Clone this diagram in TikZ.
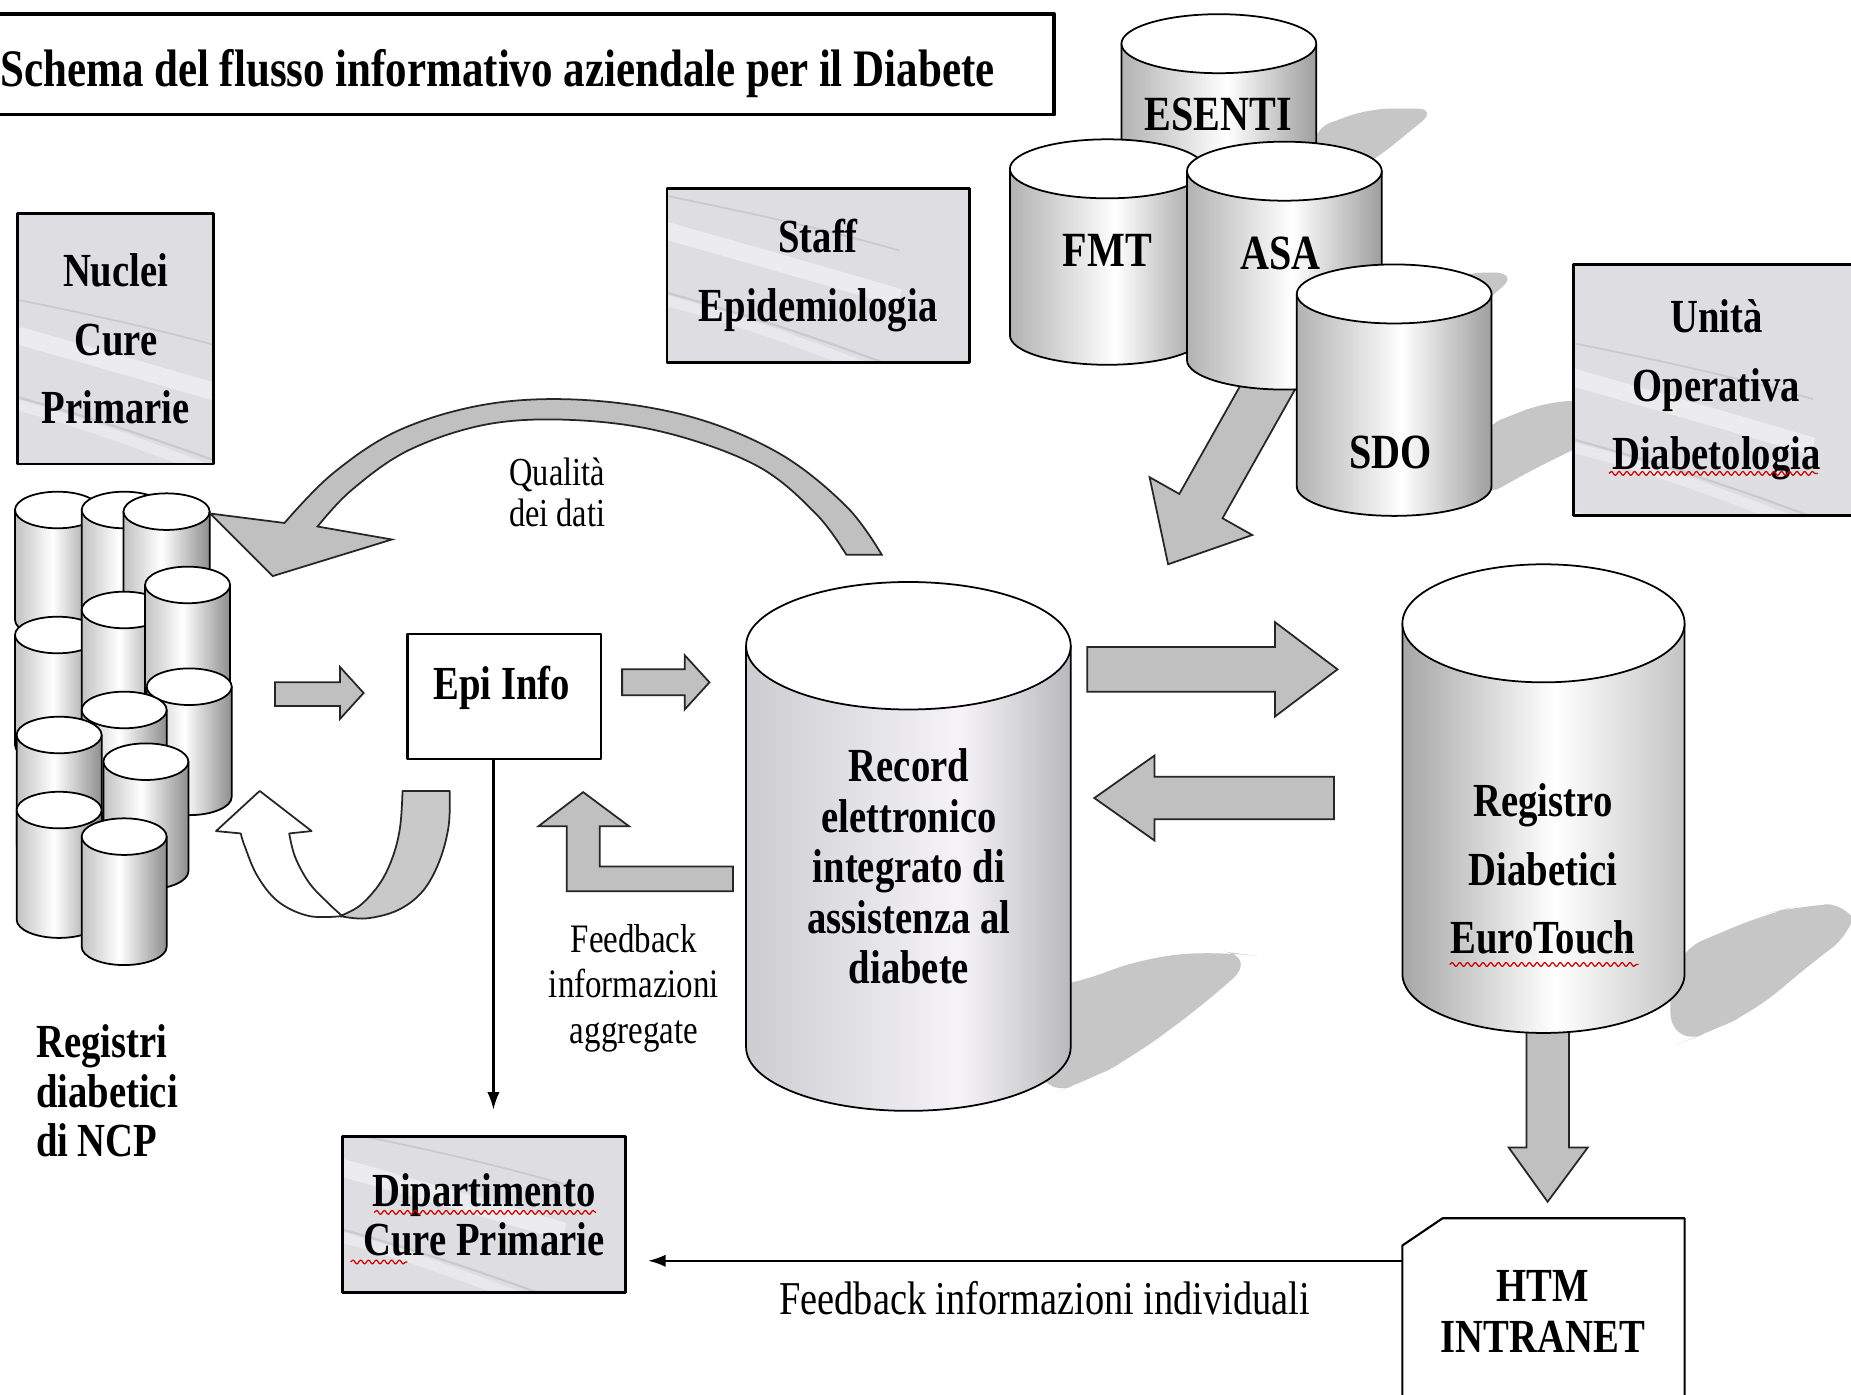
\documentclass[tikz,border=0pt]{standalone}
\usepackage{fontspec}
\setmainfont{Liberation Serif}[FakeStretch=0.815]
\usetikzlibrary{arrows.meta,decorations.pathmorphing,calc}
\definecolor{arrgray}{HTML}{C0C0C0}
\definecolor{shad}{HTML}{C6C6C6}
\definecolor{marb}{HTML}{DEDEE2}
\definecolor{cA}{HTML}{B2B2B2}\definecolor{cB}{HTML}{9E9E9E}
\definecolor{rA}{HTML}{CDCDD1}\definecolor{rM}{HTML}{F5F3F7}\definecolor{rB}{HTML}{B9B9BD}
\definecolor{gA}{HTML}{A6A6A6}\definecolor{gB}{HTML}{C4C4C4}
\definecolor{sA}{HTML}{C2C2C2}\definecolor{sB}{HTML}{8E8E8E}
\pgfdeclarehorizontalshading{cylsh}{100bp}{color(0bp)=(cA); color(25bp)=(cA); color(52bp)=(white); color(75bp)=(cB); color(100bp)=(cB)}
\pgfdeclarehorizontalshading{recsh}{100bp}{color(0bp)=(rA); color(25bp)=(rA); color(58bp)=(rM); color(75bp)=(rB); color(100bp)=(rB)}
\pgfdeclarehorizontalshading{regsh}{100bp}{color(0bp)=(gA); color(25bp)=(gA); color(52bp)=(white); color(75bp)=(gB); color(100bp)=(gB)}
\pgfdeclarehorizontalshading{stksh}{100bp}{color(0bp)=(sA); color(25bp)=(sA); color(47bp)=(white); color(75bp)=(sB); color(100bp)=(sB)}
\newdimen\U \U=0.11805mm
\newcommand\cyl[6]{%
  \path[shading=#1, draw=black, line width=0.5pt] (#2-#3,#4) -- (#2-#3,#5) arc[start angle=180, end angle=0, x radius=#3, y radius=#6] -- (#2+#3,#4) -- cycle;
  \path[fill=white, draw=black, line width=0.5pt] (#2,#4) ellipse[x radius=#3, y radius=#6];}
\newcommand\veins{%
  \draw[white, line width=5pt, opacity=.45] (-170,-120) .. controls (-80,-90) and (0,-70) .. (170,-20);
  \draw[white, line width=4pt, opacity=.4] (-170,10) .. controls (-60,30) and (40,60) .. (170,100);
  \draw[gray!70, line width=0.6pt, opacity=.35] (-170,-60) .. controls (-90,-40) and (10,-20) .. (170,40);
  \draw[gray!60, line width=1.2pt, opacity=.3] (-170,70) .. controls (-60,90) and (40,90) .. (170,140);
  \draw[gray!70, line width=0.5pt, opacity=.35] (-170,-140) .. controls (-70,-110) and (30,-100) .. (170,-60);
  \draw[white, line width=3pt, opacity=.35] (-170,-40) .. controls (-40,-30) and (40,0) .. (170,50);}
\tikzset{
  blk/.style={fill=arrgray, draw=black!85, line width=0.5pt, line join=miter},
  lbl/.style={font=\fontsize{13.5}{19.5}\selectfont\bfseries, align=center, inner sep=0pt},
  lblt/.style={font=\fontsize{13.5}{14.4}\selectfont\bfseries, align=center, inner sep=0pt},
  note/.style={font=\fontsize{11.3}{11.8}\selectfont, align=center, inner sep=0pt},
  squig/.style={draw=red!80!black, line width=0.35pt, decorate, decoration={snake, amplitude=0.55pt, segment length=2.2pt}},
  conn/.style={draw=black, line width=0.6pt, -{Latex[length=5pt,width=3.5pt]}},
  marble/.style={draw=black, line width=0.8pt, fill=marb, path picture={\begin{scope}[shift={(path picture bounding box.center)}]\veins\end{scope}}},
}
\begin{document}
\begin{tikzpicture}[x=0.11805mm, y=-0.11805mm, line join=round]
\useasboundingbox (0,0) rectangle (1568,1181);
\fill[white] (0,0) rectangle (1568,1181);

% title
\node[draw, line width=1.1pt, fill=white, minimum width=898\U, minimum height=85\U, inner sep=0pt] (titlebox) at (444,54.5) {};
\node[anchor=east, inner sep=0pt, font=\fontsize{15}{18}\selectfont\bfseries] (title) at (843,62) {Schema del flusso informativo aziendale per il Diabete};

% shadows
\fill[shad, rounded corners=6] (1110,110) -- (1160,92) -- (1218,92) -- (1165,135) -- (1120,160) -- cycle;
\fill[shad, rounded corners=6] (1165,250) -- (1249,230) -- (1286,232) -- (1250,262) -- (1200,290) -- (1165,290) -- cycle;
\fill[shad, rounded corners=6] (1255,362) -- (1305,342) -- (1345,338) -- (1345,375) -- (1300,397) -- (1255,422) -- cycle;
\fill[shad, rounded corners=10] (880,838) -- (905,835) -- (974,810) -- (1036,806) -- (1066,810) -- (1017,853) -- (960,895) -- (923,915) -- (880,930) -- cycle;
\fill[shad, rounded corners=10] (1415,808) -- (1496,774) -- (1525,767) -- (1575,765) -- (1575,786) -- (1530,819) -- (1488,856) -- (1446,875) -- (1415,887) -- cycle;

% diagonal arrow from sources
\path[blk] (1067.6,296.6) -- (999.0,418.4) -- (973.8,404.2) -- (989.5,478) -- (1060.8,453.2) -- (1035.6,439.0) -- (1104.2,317.2) -- cycle;

% source cylinders
\cyl{cylsh}{1032.5}{82.5}{37}{200}{25}
\cyl{cylsh}{938}{82.5}{143}{284}{25}
\cyl{cylsh}{1088}{82.5}{145}{305}{25}
\cyl{cylsh}{1181}{82.5}{249}{412}{25}
\node[lbl, font=\fontsize{14}{16}\selectfont\bfseries] (esenti) at (1032,97) {ESENTI};
\node[lbl, font=\fontsize{14}{16}\selectfont\bfseries] (fmt) at (938,212) {FMT};
\node[lbl, font=\fontsize{14}{16}\selectfont\bfseries] (asa) at (1085,215) {ASA};
\node[lbl, font=\fontsize{14}{16}\selectfont\bfseries] (sdo) at (1178,383) {SDO};

% marble boxes
\node[marble, minimum width=166\U, minimum height=212\U, lbl] (ncp) at (98,287) {Nuclei\\Cure\\Primarie};
\node[marble, minimum width=256\U, minimum height=147\U, lbl] (staff) at (693,233.5) {Staff\\Epidemiologia};
\node[marble, minimum width=242\U, minimum height=213\U, lbl] (uod) at (1454,330.5) {Unità\\Operativa\\Diabetologia};
\node[marble, minimum width=240\U, minimum height=132\U, lbl, font=\fontsize{13.5}{13.8}\selectfont\bfseries] (dip) at (410,1029) {Dipartimento\\Cure Primarie};
\draw[squig] (1363,401) -- (1540,401);
\draw[squig] (317,1027) -- (505,1027);
\draw[squig] (297,1069) -- (345,1069);

% left stack of registers
\cyl{stksh}{48.7}{36}{432}{525}{15.5}
\cyl{stksh}{105.2}{36}{432}{525}{15.5}
\cyl{stksh}{141.1}{36.5}{433.4}{526}{15.5}
\cyl{stksh}{48.7}{36}{537.9}{631}{15.5}
\cyl{stksh}{105.2}{36}{516.7}{610}{15.5}
\cyl{stksh}{158.9}{36}{495.5}{589}{15.5}
\cyl{stksh}{160.3}{36}{581.7}{675}{15.5}
\cyl{stksh}{105.2}{36}{601.4}{695}{15.5}
\cyl{stksh}{50.1}{36}{622.6}{716}{15.5}
\cyl{stksh}{123.6}{36}{645.2}{738}{15.5}
\cyl{stksh}{50.1}{36}{686.2}{779}{15.5}
\cyl{stksh}{105.2}{36}{708.7}{802}{15.5}
\node[lblt, align=left, anchor=west, font=\fontsize{13.5}{14.1}\selectfont\bfseries] (regncp) at (30,924) {Registri\\diabetici\\di NCP};

% Qualita curved arrow
\path[blk] plot[smooth, tension=0.6] coordinates {(747,470) (717,429) (660,384) (585,353) (498,339) (415,342) (339,364) (282,401) (241,443)}
  -- (178,435) -- (231,488) -- (332,457)
  -- plot[smooth, tension=0.6] coordinates {(269,446) (298,415) (347,381) (415,359) (490,356) (566,367) (642,395) (691,435) (717,470)} -- cycle;
\node[note] (qual) at (472,417) {Qualità\\dei dati};

% U-turn arrow
\path[fill=arrgray!85!white, draw=black!85, line width=0.5pt] (341,670) -- (381,670)
  -- plot[smooth, tension=0.6] coordinates {(381,670) (380,700) (372,730) (358,755) (337,771) (310,778) (288,776)}
  -- plot[smooth, tension=0.6] coordinates {(288,776) (305,767) (322,748) (333,725) (339,700) (341,670)} -- cycle;
\path[fill=white, draw=black!85, line width=0.5pt] plot[smooth, tension=0.6] coordinates {(290,776) (262,776) (236,764) (218,742) (207,716) (204,706)}
  -- (183,704) -- (220,670) -- (264,704) -- (245,706)
  -- plot[smooth, tension=0.6] coordinates {(245,706) (250,726) (262,748) (278,765) (290,776)} -- cycle;

% small arrows
\path[blk] (233,578) -- (288,578) -- (288,565) -- (308,587) -- (288,609) -- (288,598) -- (233,598) -- cycle;
\node[draw, line width=0.7pt, fill=white, minimum width=164\U, minimum height=106\U, inner sep=0pt] (epi) at (427,590) {};
\node[lbl] (epit) at (425,583) {Epi Info};
\path[blk] (527,567) -- (580,567) -- (580,555) -- (601,578) -- (580,601) -- (580,589) -- (527,589) -- cycle;

% L arrow feedback
\path[blk] (621,734) -- (621,755) -- (480,755) -- (480,700) -- (456,700) -- (494,671) -- (533,700) -- (508,700) -- (508,734) -- cycle;
\node[note, font=\fontsize{11.5}{12.9}\selectfont] (fba) at (537,837) {Feedback\\informazioni\\aggregate};

% Record cylinder
\cyl{recsh}{769.5}{137.5}{547}{887}{54}
\node[lblt] (rec) at (770,734) {Record\\elettronico\\integrato di\\assistenza al\\diabete};

% big arrows
\path[blk] (921,548) -- (1080,548) -- (1080,527) -- (1133,567) -- (1080,607) -- (1080,586) -- (921,586) -- cycle;
\path[blk] (1130,658) -- (978,658) -- (978,640) -- (927,676) -- (978,712) -- (978,694) -- (1130,694) -- cycle;
\path[blk] (1293,860) -- (1329,860) -- (1329,972) -- (1345,972) -- (1311,1018) -- (1278,972) -- (1293,972) -- cycle;

% Registro cylinder
\cyl{regsh}{1307.5}{119.5}{528}{825}{50}
\node[lbl] (reg) at (1307,736) {Registro\\Diabetici\\EuroTouch};
\draw[squig] (1228,817) -- (1388,817);

% HTM intranet
\path[fill=white, draw=black, line width=0.6pt] (1188,1055) -- (1222,1032) -- (1427,1032) -- (1427,1195) -- (1188,1195) -- cycle;
\node[lblt] (htm) at (1307,1111) {HTM\\INTRANET};
\coordinate (htmw) at (1188,1068);
\coordinate (dipin) at (418,940);

% connectors
\draw[conn] (epi.south -| dipin) -- (dipin);
\draw[conn, shorten >=2.1mm] (htmw) -- (htmw -| dip.east);
\node[inner sep=0pt, font=\fontsize{13.4}{15}\selectfont] (fbi) at (885,1100) {Feedback informazioni individuali};
\end{tikzpicture}
\end{document}
